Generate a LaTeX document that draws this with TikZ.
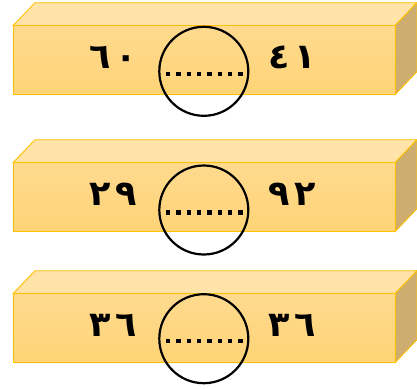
\documentclass[tikz,border=0pt]{standalone}
\usepackage{fontspec}
\newfontfamily\arabicfont[Script=Arabic]{DejaVu Sans}
\definecolor{barline}{HTML}{FFC000}
\definecolor{bartop}{HTML}{FFE3A8}
\definecolor{barfronttop}{HTML}{FFDA8E}
\definecolor{barfrontbot}{HTML}{FFD477}
\definecolor{barside}{HTML}{CDAE70}
\tikzset{
  facebox/.style={draw=barline, line width=0.9pt, line join=miter},
  numtext/.style={font=\arabicfont\bfseries\fontsize{35}{38}\selectfont, inner sep=0pt, text=black},
  blank/.style={draw=black, line width=2.2pt, circle, minimum size=89pt, inner sep=0pt},
  dotline/.style={line width=4.3pt, dash pattern=on 4.3pt off 6.05pt, black}
}
\newcommand{\mybar}[6]{%
  \begin{scope}[yshift=-#1pt]
    \fill[bartop] (13,0) -- (35,23) -- (417,23) -- (395,0) -- cycle;
    \draw[facebox] (13,0) -- (35,23) -- (417,23) -- (395,0) -- cycle;
    \fill[barside] (395,0) -- (417,23) -- (417,-46) -- (395,-69) -- cycle;
    \draw[facebox] (395,0) -- (417,23) -- (417,-46) -- (395,-69) -- cycle;
    \shade[top color=barfronttop, bottom color=barfrontbot] (13,0) rectangle (395,-69);
    \draw[facebox] (13,0) rectangle (395,-69);
  \end{scope}
  \node[numtext] (#5l) at (113,-#6) {#2};
  \node[numtext] (#5r) at (292,-#6) {#3};
  \node[blank] (#5c) at (203.8,-#4) {};
  \coordinate (#5a) at (166,-#4-2.5);
  \coordinate (#5b) at (243,-#4-2.5);
  \draw[dotline] (#5a) -- (#5b);
}
\begin{document}
\begin{tikzpicture}[x=1pt,y=1pt]
\useasboundingbox (0,0) rectangle (417,-388);
\mybar{25.7}{٦\hspace{0.15em}٠}{٤\hspace{0.15em}١}{71.3}{one}{57}
\mybar{162.7}{٢\hspace{0.15em}٩}{٩\hspace{0.15em}٢}{210}{two}{194}
\mybar{293.7}{٣\hspace{0.15em}٦}{٣\hspace{0.15em}٦}{338.7}{three}{325.5}
\end{tikzpicture}
\end{document}
